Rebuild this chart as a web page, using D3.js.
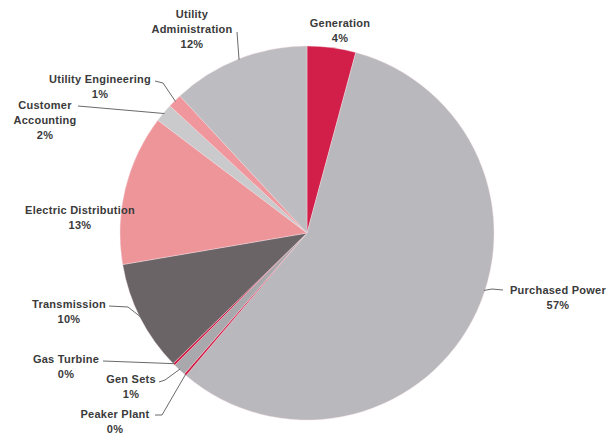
<!DOCTYPE html>
<html>
<head>
<meta charset="utf-8">
<script src="https://cdn.jsdelivr.net/npm/d3@7"></script>
<style>
  html, body { margin: 0; padding: 0; background: #fff; }
  svg text { font-family: "Liberation Sans", Arial, sans-serif; font-weight: bold; font-size: 11px; letter-spacing: 0.25px; fill: #3a3a3a; }
</style>
</head>
<body>
<svg id="chart" width="613" height="439"></svg>
<script>
// Expense categories, clockwise from 12 o'clock
const categories = [
  "Generation", "Purchased Power", "Peaker Plant", "Gen Sets", "Gas Turbine",
  "Transmission", "Electric Distribution", "Customer Accounting",
  "Utility Engineering", "Utility Administration"
];
// Share of total expense (%)
const shares = [4.2, 57.0, 0.2, 1.1, 0.2, 9.6, 13.0, 1.6, 1.2, 11.9];
const sliceColors = [
  "#d21f4a", "#b9b8bd", "#cf1d47", "#a9a8ad", "#cf1d47",
  "#6b6467", "#ee959a", "#cacacd", "#ef979c", "#bdbdc1"
];

// Label layout: text lines, anchor of the first line, leader bends, optional rim angle (deg)
const labelLayout = {
  "Generation":            { lines: ["Generation"], x: 340, y: 27, leader: null },
  "Purchased Power":       { lines: ["Purchased Power"], x: 558, y: 294, leader: [[503, 290], [492, 289]], rimAngle: 108 },
  "Peaker Plant":          { lines: ["Peaker Plant"], x: 115, y: 418, leader: [[155, 415], [162, 415]] },
  "Gen Sets":              { lines: ["Gen Sets"], x: 131, y: 383, leader: [[159, 382], [165, 380]] },
  "Gas Turbine":           { lines: ["Gas Turbine"], x: 66, y: 363, leader: [[103, 361]] },
  "Transmission":          { lines: ["Transmission"], x: 69, y: 308, leader: [[109, 306], [128, 307]] },
  "Electric Distribution": { lines: ["Electric Distribution"], x: 80, y: 214, leader: null },
  "Customer Accounting":   { lines: ["Customer", "Accounting"], x: 45, y: 109, leader: [[78, 106]] },
  "Utility Engineering":   { lines: ["Utility Engineering"], x: 100, y: 83, leader: [[155, 81], [163, 83]] },
  "Utility Administration":{ lines: ["Utility", "Administration"], x: 192, y: 18, leader: [[237, 32]] }
};

const cx = 307, cy = 233, radius = 187;
const svg = d3.select("#chart");
const g = svg.append("g").attr("transform", `translate(${cx},${cy})`);

const data = categories.map((c, i) => ({ category: c, value: shares[i], color: sliceColors[i] }));

const pie = d3.pie().value(d => d.value).sort(null);
const arc = d3.arc().innerRadius(0).outerRadius(radius);
const arcs = pie(data);

g.selectAll("path.slice")
  .data(arcs)
  .join("path")
  .attr("class", "slice")
  .attr("d", arc)
  .attr("fill", d => d.data.color)
  .attr("stroke", "#f4dfe3")
  .attr("stroke-width", 0.4);

const lineHeight = 15;
const leaderLine = d3.line();

arcs.forEach(a => {
  const lay = labelLayout[a.data.category];
  const pct = Math.round(a.data.value) + "%";
  const lines = lay.lines.concat([pct]);

  // Leader from the label to the slice's outer rim
  if (lay.leader) {
    const ang = lay.rimAngle !== undefined ? lay.rimAngle * Math.PI / 180 : (a.startAngle + a.endAngle) / 2;
    const edge = [cx + Math.sin(ang) * (radius - 1), cy - Math.cos(ang) * (radius - 1)];
    svg.append("path")
      .attr("d", leaderLine(lay.leader.concat([edge])))
      .attr("fill", "none")
      .attr("stroke", "#6a6a6a")
      .attr("stroke-width", 1);
  }

  const t = svg.append("text")
    .attr("text-anchor", "middle")
    .attr("x", lay.x)
    .attr("y", lay.y);
  lines.forEach((ln, i) => {
    t.append("tspan").attr("x", lay.x).attr("dy", i === 0 ? 0 : lineHeight).text(ln);
  });
});
</script>
</body>
</html>
